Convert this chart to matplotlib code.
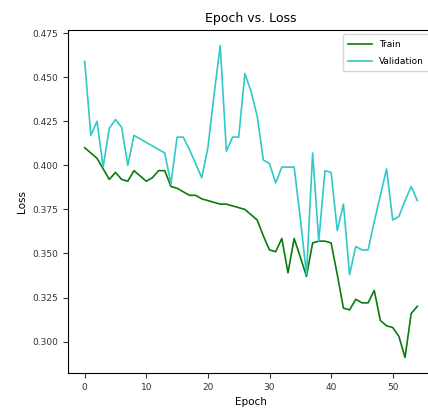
import numpy as np
import matplotlib
matplotlib.use("Agg")
import matplotlib.pyplot as plt

# loss per epoch
train_loss = [0.410, 0.407, 0.404, 0.398, 0.392, 0.396, 0.392, 0.391, 0.397, 0.394,
              0.391, 0.393, 0.397, 0.397, 0.388, 0.387, 0.385, 0.383, 0.383, 0.381,
              0.380, 0.379, 0.378, 0.378, 0.377, 0.376, 0.375, 0.372, 0.369, 0.360,
              0.352, 0.351, 0.3585, 0.339, 0.3585, 0.348, 0.337, 0.356, 0.357, 0.357,
              0.356, 0.338, 0.319, 0.318, 0.324, 0.322, 0.322, 0.329, 0.312, 0.309,
              0.308, 0.303, 0.291, 0.316, 0.320]
val_loss = [0.459, 0.417, 0.425, 0.399, 0.421, 0.426, 0.4215, 0.400, 0.417, 0.415,
            0.413, 0.411, 0.409, 0.407, 0.3895, 0.416, 0.416, 0.409, 0.401, 0.393,
            0.410, 0.440, 0.468, 0.408, 0.416, 0.416, 0.452, 0.442, 0.428, 0.403,
            0.401, 0.390, 0.399, 0.399, 0.399, 0.370, 0.338, 0.407, 0.357, 0.397,
            0.396, 0.363, 0.378, 0.338, 0.354, 0.352, 0.352, 0.368, 0.383, 0.398,
            0.369, 0.371, 0.380, 0.388, 0.380]
epochs = np.arange(len(train_loss))

fig = plt.figure(figsize=(4.28, 4.15), dpi=100)
ax = fig.add_axes([0.159, 0.101, 0.855, 0.827])

ax.plot(epochs, train_loss, color="#0a7a0a", linewidth=1.2, label="Train")
ax.plot(epochs, val_loss, color="#30c8c8", linewidth=1.2, label="Validation")

ax.set_title("Epoch vs. Loss", fontsize=9)
ax.set_xlabel("Epoch", fontsize=7.5)
ax.set_ylabel("Loss", fontsize=7.5)
ax.tick_params(labelsize=6.5, colors="#333333")
ax.set_yticks([0.300, 0.325, 0.350, 0.375, 0.400, 0.425, 0.450, 0.475])
ax.set_xticks([0, 10, 20, 30, 40, 50])
ax.legend(loc="upper right", fontsize=6.5, labelspacing=0.9, handlelength=2.6,
          borderpad=0.6)

fig.savefig("out.png", dpi=100)
